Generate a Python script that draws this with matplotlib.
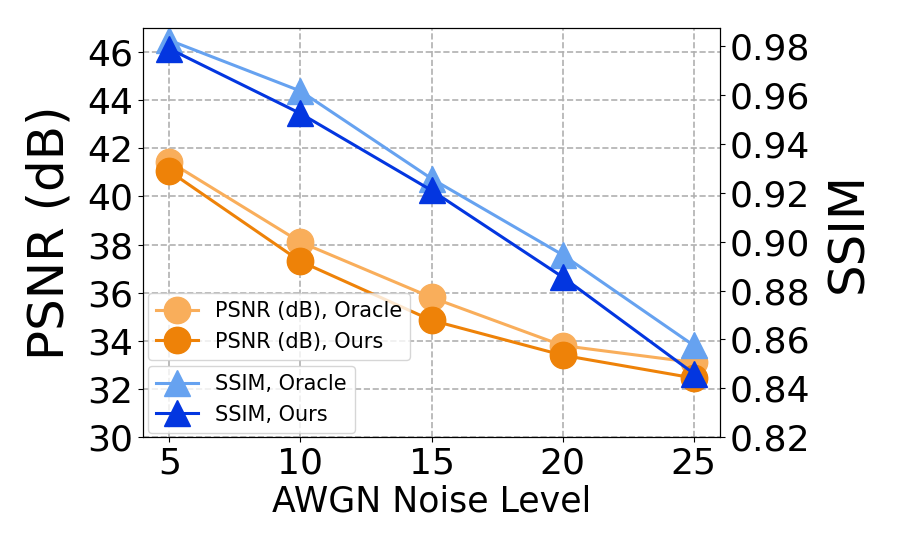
import numpy as np
import matplotlib
matplotlib.use("Agg")
import matplotlib.pyplot as plt

# datos
noise = [5, 10, 15, 20, 25]
psnr_oracle = [41.45, 38.1, 35.8, 33.8, 33.1]
psnr_ours = [41.05, 37.3, 34.85, 33.4, 32.45]
ssim_oracle = [0.9825, 0.9617, 0.9258, 0.8946, 0.8575]
ssim_ours = [0.979, 0.9525, 0.921, 0.8855, 0.846]

c_po = "#F9AE5B"
c_pu = "#EE8208"
c_so = "#66A2F0"
c_su = "#0336E0"

fig, ax = plt.subplots(figsize=(9, 5.55), dpi=100)
fig.subplots_adjust(left=0.159, right=0.8, bottom=0.2126, top=0.9495)
ax2 = ax.twinx()

l1, = ax.plot(noise, psnr_oracle, "-o", color=c_po, lw=2.2, ms=19, label="PSNR (dB), Oracle")
l2, = ax.plot(noise, psnr_ours, "-o", color=c_pu, lw=2.2, ms=19, label="PSNR (dB), Ours")
l3, = ax2.plot(noise, ssim_oracle, "-^", color=c_so, lw=2.2, ms=19, label="SSIM, Oracle")
l4, = ax2.plot(noise, ssim_ours, "-^", color=c_su, lw=2.2, ms=19, label="SSIM, Ours")

ax.set_ylim(30, 47)
ax.set_yticks(np.arange(30, 47, 2))
ax2.set_ylim(0.82, 0.9875)
ax2.set_yticks(np.arange(0.82, 0.981, 0.02))
ax2.set_yticklabels([f"{v:.2f}" for v in np.arange(0.82, 0.981, 0.02)])
ax.set_xticks(noise)

ax.grid(True, ls="--", color="#b0b0b0", lw=1.2)
ax.set_axisbelow(True)

ax.tick_params(labelsize=26)
ax2.tick_params(labelsize=26)
ax.set_xlabel("AWGN Noise Level", fontsize=25, labelpad=3)
ax.set_ylabel("PSNR (dB)", fontsize=36, labelpad=10)
ax2.set_ylabel("SSIM", fontsize=36, labelpad=10)

leg1 = ax2.legend(handles=[l1, l2], loc="lower left", bbox_to_anchor=(0.0087, 0.188),
                  borderaxespad=0, fontsize=15)
ax2.add_artist(leg1)
ax2.legend(handles=[l3, l4], loc="lower left", bbox_to_anchor=(0.0087, 0.01),
           borderaxespad=0, fontsize=15)

plt.savefig("out.png")
